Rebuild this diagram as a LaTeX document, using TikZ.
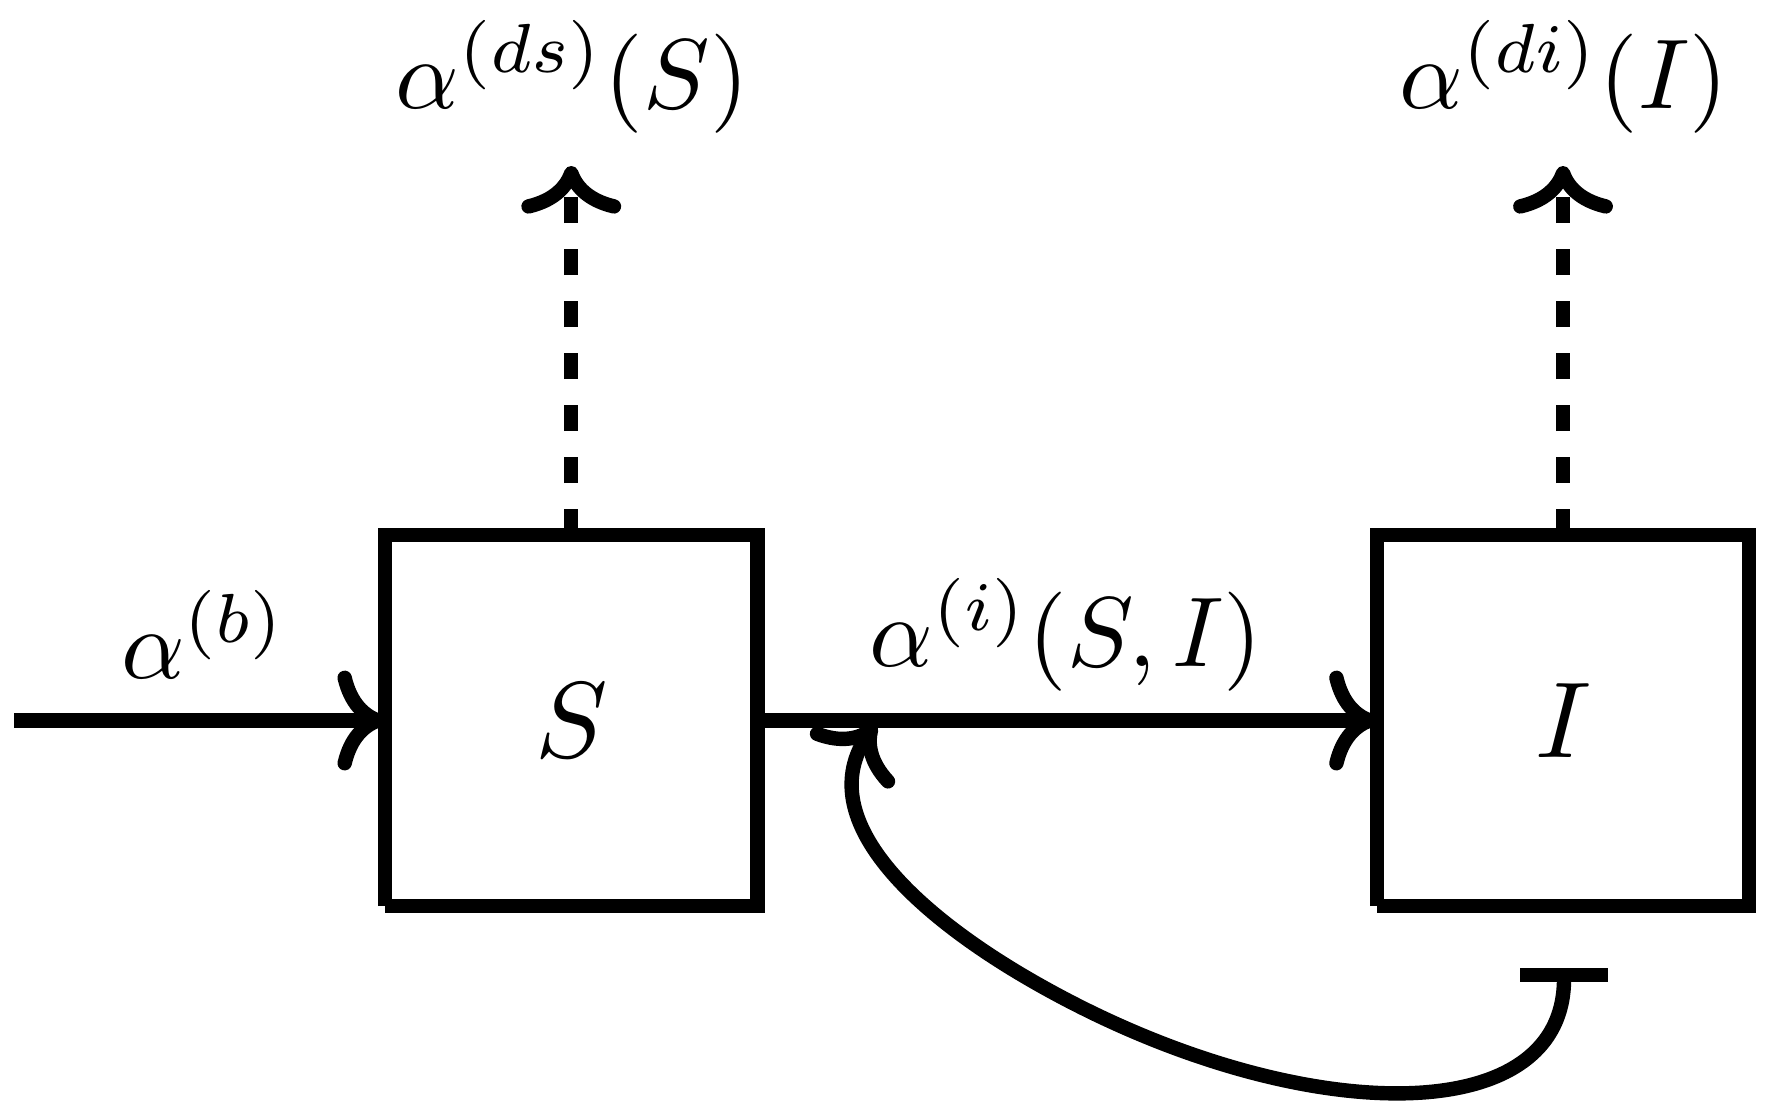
\documentclass[tikz,border=0pt]{standalone}
\usepackage{graphicx}
\usetikzlibrary{arrows.meta}
\newcommand{\rtxt}[1]{\scalebox{2.7}{$#1$}}
\newcommand{\ltxt}[1]{\scalebox{2.48}{$#1$}}
\begin{document}
\begin{tikzpicture}[x=0.25pt,y=-0.25pt,
  lw/.style={line width=3.6pt},
  compartment/.style={minimum width=93.1pt, minimum height=92.75pt, inner sep=0pt, outer sep=0pt},
  rate/.style={inner sep=7.75pt, anchor=base},
  flow/.style={lw, -{Computer Modern Rightarrow[scale=1.25]}},
  death/.style={flow, dash pattern=on 6.5pt off 6.5pt},
  boxline/.style={lw, line cap=butt, line join=miter}]
\useasboundingbox (0,0) rectangle (1772,1104);
% compartments
\node[compartment] (S) at (571.25,720.5) {\rtxt{S}};
\node[compartment] (I) at (1563,720.5) {\rtxt{I}};
\draw[boxline] (S.south west) -- (S.north west) -- (S.north east) -- (S.south east) -- (S.south west);
\draw[boxline] (I.south west) -- (I.north west) -- (I.north east) -- (I.south east) -- (I.south west);
% rate labels
\node[rate] (lb) at (204,678) {\ltxt{\alpha^{(b)}}};
\node[rate] (li) at (1066,666) {\ltxt{\alpha^{(i)}(S,I)}};
\node[rate] (lds) at (572,108) {\ltxt{\alpha^{(ds)}(S)}};
\node[rate] (ldi) at (1564,108) {\ltxt{\alpha^{(di)}(I)}};
% flows
\coordinate (in) at (14,720.5);
\draw[flow] (in) -- (S.west);
\draw[flow] (S.east) -- (I.west);
\draw[death] (S.north) -- (S.north |- 0,166);
\draw[death] (I.north) -- (I.north |- 0,166);
% modulation
\coordinate (bar) at (1564,968);
\coordinate (hit) at (875,724);
\draw[lw, {Bar[width=22pt]}-{Computer Modern Rightarrow[scale=1.25]}] (bar) .. controls (1564,1140) and (1272,1125) .. (1017,972) .. controls (914,910) and (812,818) .. (hit);
\end{tikzpicture}
\end{document}
